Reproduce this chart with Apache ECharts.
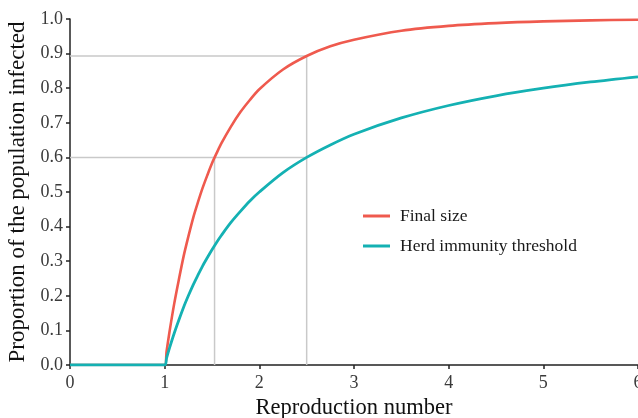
<!DOCTYPE html>
<html>
<head>
<meta charset="utf-8">
<script src="https://cdn.jsdelivr.net/npm/echarts@6/dist/echarts.min.js"></script>
<style>
  html, body { margin: 0; padding: 0; background: #fff; }
  #chart { width: 638px; height: 418px; }
</style>
</head>
<body>
<div id="chart"></div>
<script>
// Reproduction number samples
const rValues = [0, 0.5, 1, 1.02, 1.05, 1.1, 1.15, 1.2, 1.25, 1.3, 1.35, 1.4, 1.45, 1.5, 1.55, 1.6, 1.7, 1.8, 1.9, 2.0, 2.25, 2.5, 2.75, 3.0, 3.5, 4.0, 4.5, 5.0, 5.5, 6.0];
// Final epidemic size (proportion infected)
const finalSize = [0, 0, 0, 0.039, 0.094, 0.176, 0.247, 0.314, 0.371, 0.424, 0.469, 0.511, 0.548, 0.583, 0.613, 0.641, 0.689, 0.731, 0.766, 0.797, 0.854, 0.893, 0.921, 0.940, 0.966, 0.980, 0.988, 0.993, 0.996, 0.998];
// Herd immunity threshold
const herdThreshold = [0, 0, 0, 0.020, 0.048, 0.091, 0.130, 0.167, 0.200, 0.231, 0.259, 0.286, 0.310, 0.333, 0.355, 0.375, 0.412, 0.444, 0.474, 0.500, 0.556, 0.600, 0.636, 0.667, 0.714, 0.750, 0.778, 0.800, 0.818, 0.833];

// Guide lines: R where final size reaches 0.6, and R = 2.5
const guideR = [1.527, 2.5];
const guideY = [0.6, 0.893];

const xTicks = [0, 1, 2, 3, 4, 5, 6];
const yTicks = [0, 0.1, 0.2, 0.3, 0.4, 0.5, 0.6, 0.7, 0.8, 0.9, 1.0];

const seriesNames = ['Final size', 'Herd immunity threshold'];
const colors = ['#ef5a4e', '#14b1b3'];

const font = 'Liberation Serif, Times New Roman, serif';
const zip = (xs, ys) => xs.map((x, i) => [x, ys[i]]);

const guideStyle = { color: '#c9c9c9', width: 1.5 };
const guide = (data) => ({
  type: 'line', data, silent: true, symbol: 'none', z: 1,
  lineStyle: guideStyle, animation: false, legendHoverLink: false
});

const chart = echarts.init(document.getElementById('chart'), null, { renderer: 'canvas' });
chart.setOption({
  animation: false,
  backgroundColor: '#ffffff',
  grid: { left: 70, right: 0, top: 19, bottom: 53, containLabel: false, outerBoundsMode: 'none' },
  legend: {
    data: seriesNames,
    orient: 'vertical',
    left: 358, top: 202,
    itemWidth: 27, itemHeight: 3, itemGap: 12,
    icon: 'rect',
    textStyle: { fontFamily: font, fontSize: 17.5, color: '#1a1a1a', padding: [0, 0, 0, 5] }
  },
  xAxis: {
    type: 'value', min: xTicks[0], max: xTicks[xTicks.length - 1], interval: 1,
    name: 'Reproduction number', nameLocation: 'middle', nameGap: 30,
    nameTextStyle: { fontFamily: font, fontSize: 22.5, color: '#111' },
    axisLine: { show: true, onZero: false, lineStyle: { color: '#222', width: 1.5 } },
    axisTick: { show: true, length: 4, lineStyle: { color: '#222', width: 1.5 } },
    axisLabel: { fontFamily: font, fontSize: 18, color: '#3a3a3a', margin: 9 },
    splitLine: { show: false }
  },
  yAxis: {
    type: 'value', min: yTicks[0], max: yTicks[yTicks.length - 1], interval: 0.1,
    name: 'Proportion of the population infected', nameLocation: 'middle', nameGap: 41,
    nameTextStyle: { fontFamily: font, fontSize: 23, color: '#111' },
    axisLine: { show: true, onZero: false, lineStyle: { color: '#222', width: 1.5 } },
    axisTick: { show: true, length: 4, lineStyle: { color: '#222', width: 1.5 } },
    axisLabel: { fontFamily: font, fontSize: 18, color: '#3a3a3a', margin: 7,
      formatter: (v) => v.toFixed(1) },
    splitLine: { show: false }
  },
  series: [
    guide([[xTicks[0], guideY[1]], [guideR[1], guideY[1]], [guideR[1], 0]]),
    guide([[xTicks[0], guideY[0]], [guideR[1], guideY[0]]]),
    guide([[guideR[0], 0], [guideR[0], guideY[0]]]),
    {
      name: seriesNames[0], type: 'line', data: zip(rValues, finalSize),
      smooth: 0.3, symbol: 'none', z: 3,
      itemStyle: { color: colors[0] },
      lineStyle: { color: colors[0], width: 2.6 }
    },
    {
      name: seriesNames[1], type: 'line', data: zip(rValues, herdThreshold),
      smooth: 0.3, symbol: 'none', z: 4,
      itemStyle: { color: colors[1] },
      lineStyle: { color: colors[1], width: 2.8 }
    }
  ]
});
</script>
</body>
</html>
